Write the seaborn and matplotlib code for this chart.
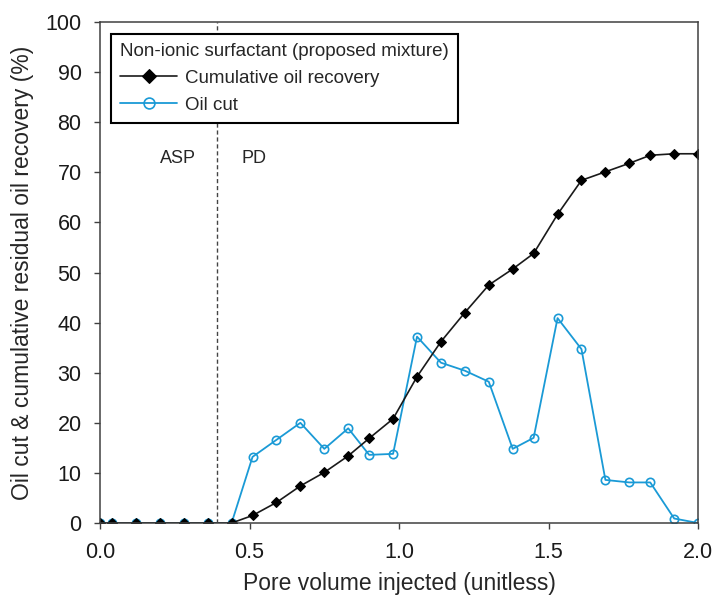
import matplotlib
matplotlib.use("Agg")
import matplotlib.pyplot as plt
import seaborn as sns
import pandas as pd

pv = [0.00, 0.04, 0.12, 0.20, 0.28, 0.36, 0.44, 0.51, 0.59, 0.67, 0.75, 0.83, 0.90, 0.98,
      1.06, 1.14, 1.22, 1.30, 1.38, 1.45, 1.53, 1.61, 1.69, 1.77, 1.84, 1.92, 2.00]
cumulative = [0, 0, 0, 0, 0, 0, 0, 1.5, 4.1, 7.4, 10.1, 13.4, 16.9, 20.8,
              29.2, 36.2, 42.0, 47.5, 50.7, 53.8, 61.6, 68.4, 70.1, 71.8, 73.4, 73.7, 73.7]
oil_cut = [0, 0, 0, 0, 0, 0, 0, 13.2, 16.6, 20.0, 14.8, 18.9, 13.6, 13.8,
           37.2, 32.0, 30.4, 28.2, 14.8, 17.0, 40.9, 34.7, 8.6, 8.1, 8.1, 0.9, 0]
x_ticks = [0.0, 0.5, 1.0, 1.5, 2.0]
y_ticks = list(range(0, 101, 10))
legend_title = "Non-ionic surfactant (proposed mixture)"
series_names = ["Cumulative oil recovery", "Oil cut"]
stage_labels = ["ASP", "PD"]

sns.set_theme(style="white")
plt.rcParams["font.family"] = ["Liberation Sans", "DejaVu Sans"]

df = pd.DataFrame({"pv": pv, "cum": cumulative, "cut": oil_cut})

fig = plt.figure(figsize=(7.16, 5.98), dpi=100)
ax = fig.add_axes([0.1397, 0.1254, 0.8353, 0.8378])

blue = "#1a9ad6"
sns.lineplot(data=df, x="pv", y="cut", ax=ax, color=blue, marker="o",
             markersize=6, markerfacecolor="none", markeredgecolor=blue,
             markeredgewidth=1.2, linewidth=1.3, label=series_names[1])
sns.lineplot(data=df, x="pv", y="cum", ax=ax, color="#1a1a1a", marker="D",
             markersize=5.5, markerfacecolor="black", markeredgecolor="black",
             linewidth=1.2, label=series_names[0])

ax.axvline(0.39, color="#444444", linestyle=(0, (3, 2)), linewidth=1)
ax.text(0.26, 72.8, stage_labels[0], fontsize=13, ha="center", va="center")
ax.text(0.515, 72.8, stage_labels[1], fontsize=13, ha="center", va="center")

ax.set_xlim(0, 2.0)
ax.set_ylim(0, 100)
ax.set_xticks(x_ticks)
ax.set_xticklabels([f"{t:.1f}" for t in x_ticks])
ax.set_yticks(y_ticks)
ax.tick_params(axis="both", direction="out", length=4.3, width=1, colors="#404040",
               labelcolor="#1a1a1a", labelsize=15.5, bottom=True, left=True, top=False, right=False)
ax.tick_params(axis="y", pad=9)
ax.tick_params(axis="x", pad=9.5)
for s in ax.spines.values():
    s.set_color("#404040")
    s.set_linewidth(1.1)

ax.set_xlabel("Pore volume injected (unitless)", fontsize=16.5, labelpad=6)
ax.set_ylabel("Oil cut & cumulative residual oil recovery (%)", fontsize=16.5, labelpad=8)

handles, labels = ax.get_legend_handles_labels()
order = [labels.index(series_names[0]), labels.index(series_names[1])]
leg = ax.legend([handles[i] for i in order], [labels[i] for i in order],
                title=legend_title, loc="upper left", bbox_to_anchor=(0.019, 0.976),
                fontsize=13.5, title_fontsize=13.5, frameon=True, fancybox=False,
                edgecolor="black", framealpha=1, borderpad=0.48, labelspacing=0.52,
                handlelength=3.0, handletextpad=0.42, borderaxespad=0.0, markerscale=1.3)
leg._legend_box.align = "left"
leg.get_frame().set_linewidth(1.5)

fig.savefig("out.png", dpi=100)
